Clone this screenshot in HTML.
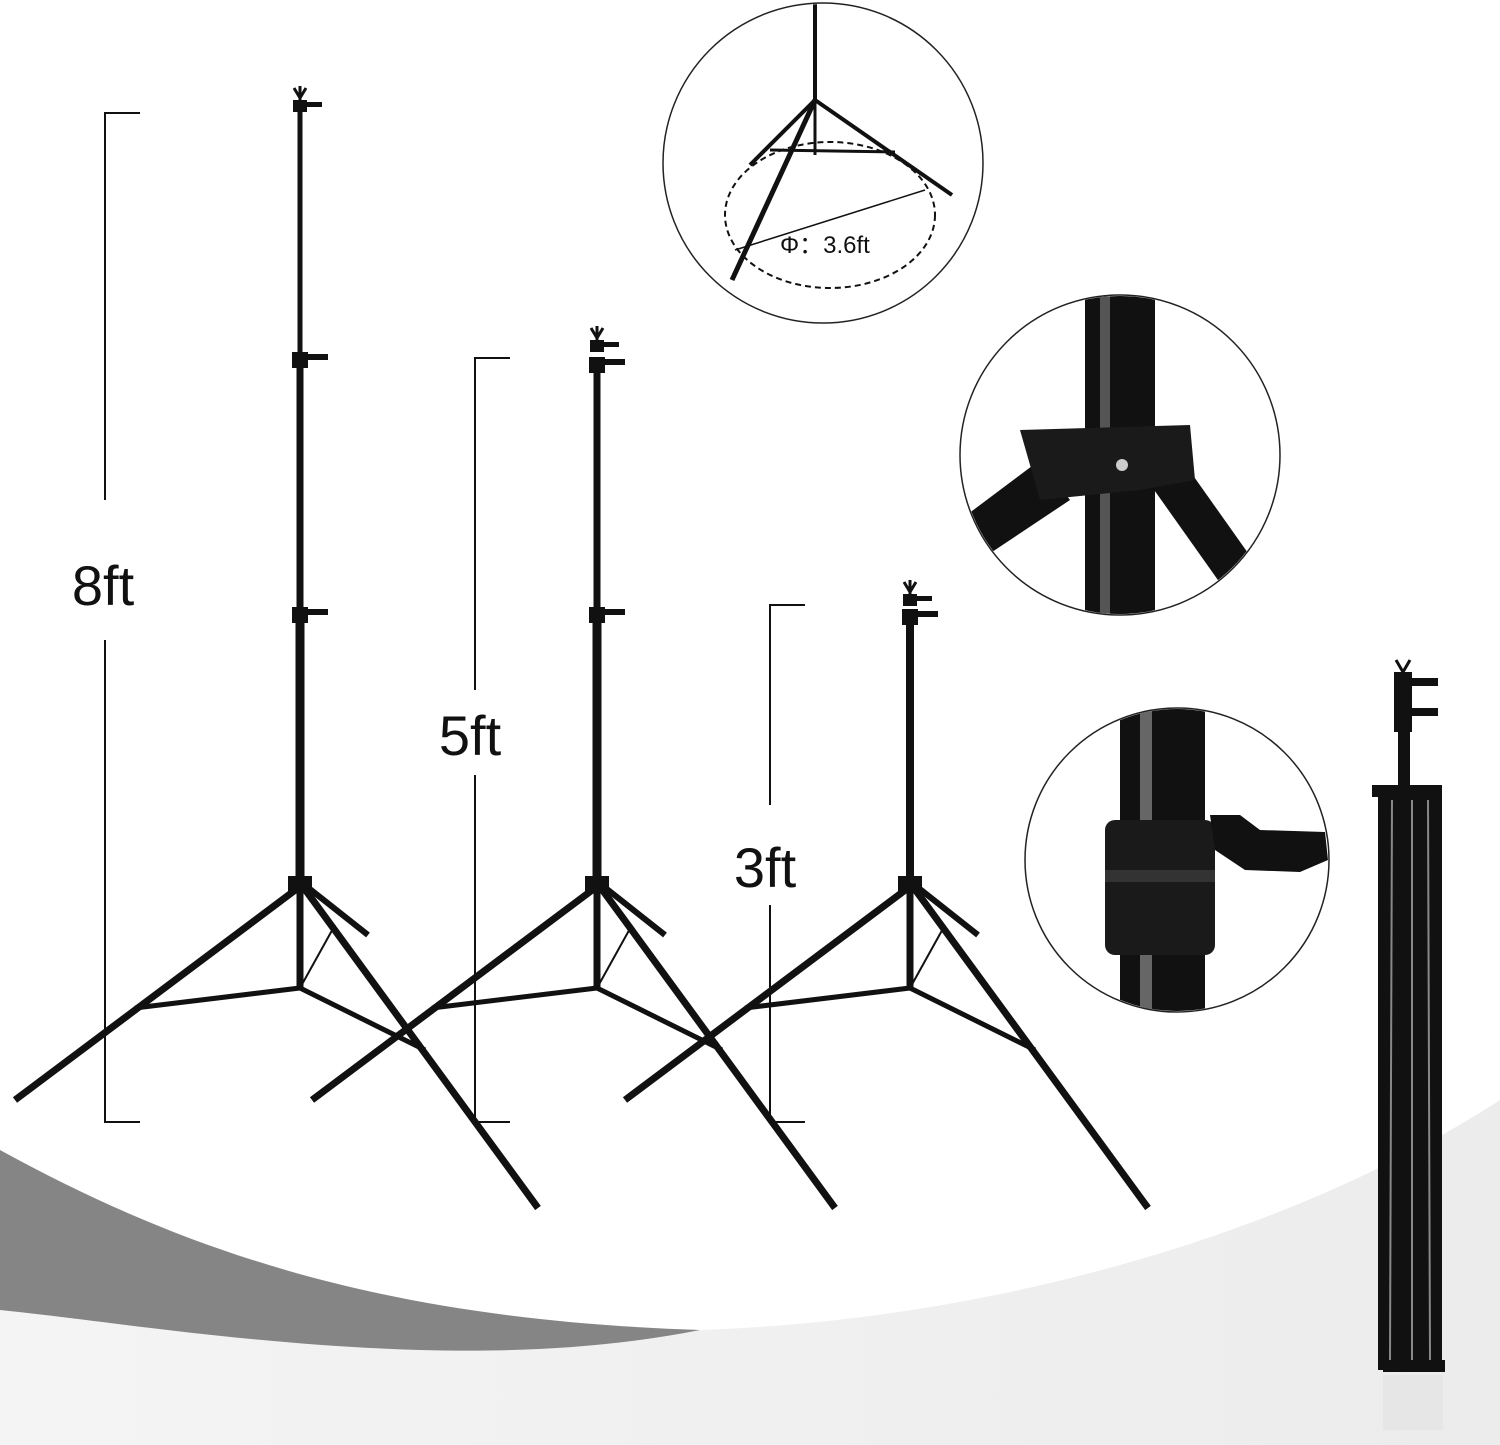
<!DOCTYPE html>
<html><head><style>
body{margin:0;width:1500px;height:1445px;overflow:hidden;background:#fff}
svg{display:block}
text{font-family:"Liberation Sans",Arial,sans-serif}
</style></head><body>
<svg width="1500" height="1445" viewBox="0 0 1500 1445">
<defs>
<linearGradient id="bg" x1="0" y1="0" x2="1" y2="0"><stop offset="0" stop-color="#f4f4f4"/><stop offset="1" stop-color="#ececec"/></linearGradient>
<clipPath id="c1"><circle cx="823" cy="163" r="159"/></clipPath>
<clipPath id="c2"><circle cx="1120" cy="455" r="159"/></clipPath>
<clipPath id="c3"><circle cx="1177" cy="860" r="151"/></clipPath>
<g id="base">
 <rect x="288" y="876" width="24" height="16" fill="#111"/>
 <line x1="298" y1="888" x2="15" y2="1100" stroke="#111" stroke-width="7"/>
 <line x1="304" y1="888" x2="538" y2="1208" stroke="#111" stroke-width="7"/>
 <line x1="306" y1="886" x2="368" y2="935" stroke="#111" stroke-width="6"/>
 <line x1="300" y1="885" x2="300" y2="990" stroke="#111" stroke-width="7"/>
 <line x1="300" y1="988" x2="135" y2="1008" stroke="#111" stroke-width="5"/>
 <line x1="300" y1="988" x2="425" y2="1050" stroke="#111" stroke-width="5"/>
 <line x1="300" y1="988" x2="335" y2="925" stroke="#111" stroke-width="2"/>
</g>
<g id="clamp">
 <rect x="-8" y="-8" width="16" height="16" fill="#111"/><rect x="6" y="-6" width="22" height="6" fill="#111"/>
</g>
<g id="tip">
 <path d="M-6 -12 L0 -2 L6 -12 M0 -14 V0" stroke="#111" stroke-width="3" fill="none"/>
 <rect x="-7" y="0" width="14" height="12" fill="#111"/><rect x="6" y="2" width="16" height="5" fill="#111"/>
</g>
</defs>
<rect width="1500" height="1445" fill="url(#bg)"/>
<path d="M0 0 H1500 V1100 C1300 1230 1000 1320 700 1330 C400 1320 200 1260 0 1150 Z" fill="#fff"/>
<path d="M0 1150 C200 1260 400 1320 700 1330 C600 1350 500 1352 420 1350 C250 1345 100 1320 0 1310 Z" fill="#858585"/>

<g stroke="#111" stroke-width="2" fill="none">
<path d="M140 113 H105 V500 M105 640 V1122 H140"/>
<path d="M510 358 H475 V690 M475 775 V1122 H510"/>
<path d="M805 605 H770 V805 M770 905 V1122 H805"/>
</g>
<text x="103" y="605" font-size="56" text-anchor="middle" fill="#111">8ft</text>
<text x="470" y="755" font-size="56" text-anchor="middle" fill="#111">5ft</text>
<text x="765" y="887" font-size="56" text-anchor="middle" fill="#111">3ft</text>

<!-- tripod 1 -->
<use href="#base"/>
<line x1="300" y1="105" x2="300" y2="360" stroke="#111" stroke-width="5"/>
<line x1="300" y1="360" x2="300" y2="615" stroke="#111" stroke-width="7"/>
<line x1="300" y1="615" x2="300" y2="885" stroke="#111" stroke-width="9"/>
<use href="#tip" x="300" y="100"/>
<use href="#clamp" x="300" y="360"/>
<use href="#clamp" x="300" y="615"/>
<!-- tripod 2 -->
<use href="#base" x="297"/>
<line x1="597" y1="360" x2="597" y2="615" stroke="#111" stroke-width="7"/>
<line x1="597" y1="615" x2="597" y2="885" stroke="#111" stroke-width="9"/>
<use href="#tip" x="597" y="340"/>
<use href="#clamp" x="597" y="365"/>
<use href="#clamp" x="597" y="615"/>
<!-- tripod 3 -->
<use href="#base" x="610"/>
<line x1="910" y1="610" x2="910" y2="885" stroke="#111" stroke-width="8"/>
<use href="#tip" x="910" y="594"/>
<use href="#clamp" x="910" y="617"/>

<!-- circle 1 -->
<circle cx="823" cy="163" r="160" fill="#fff" stroke="#222" stroke-width="1.5"/>
<g clip-path="url(#c1)" stroke="#111" fill="none">
<line x1="815" y1="0" x2="815" y2="100" stroke-width="4"/>
<line x1="815" y1="100" x2="732" y2="280" stroke-width="5"/>
<line x1="815" y1="100" x2="952" y2="195" stroke-width="4"/>
<line x1="815" y1="100" x2="750" y2="165" stroke-width="4"/>
<line x1="815" y1="100" x2="815" y2="155" stroke-width="3"/>
<line x1="770" y1="150" x2="895" y2="152" stroke-width="3"/>
<ellipse cx="830" cy="215" rx="105" ry="73" stroke-dasharray="6 4" stroke-width="2"/>
<line x1="735" y1="250" x2="925" y2="190" stroke-width="1.5"/>
</g>
<text x="780" y="253" font-size="24" fill="#111">Φ：3.6ft</text>

<!-- circle 2 -->
<circle cx="1120" cy="455" r="160" fill="#fff" stroke="#222" stroke-width="1.5"/>
<g clip-path="url(#c2)">
<rect x="1085" y="290" width="70" height="330" fill="#111"/>
<rect x="1100" y="290" width="10" height="330" fill="#555"/>
<path d="M960 520 L1040 460 L1070 500 L980 560 Z" fill="#111"/>
<path d="M1140 470 L1175 450 L1260 570 L1225 590 Z" fill="#111"/>
<path d="M1020 430 L1190 425 L1195 480 L1140 490 L1040 500 Z" fill="#1a1a1a"/>
<circle cx="1122" cy="465" r="6" fill="#ccc"/>
</g>

<!-- circle 3 -->
<circle cx="1177" cy="860" r="152" fill="#fff" stroke="#222" stroke-width="1.5"/>
<g clip-path="url(#c3)">
<rect x="1120" y="700" width="85" height="320" fill="#111"/>
<rect x="1140" y="700" width="12" height="320" fill="#666"/>
<rect x="1105" y="820" width="110" height="135" rx="10" fill="#1a1a1a"/>
<rect x="1105" y="870" width="110" height="12" fill="#333"/>
<path d="M1210 815 L1240 815 L1260 830 L1325 832 L1328 860 L1300 872 L1245 870 L1215 850 Z" fill="#111"/>
</g>

<!-- folded stand -->
<g fill="#111">
<path d="M1396 660 L1403 672 L1410 660" stroke="#111" stroke-width="3" fill="none"/>
<rect x="1394" y="672" width="18" height="60"/>
<rect x="1408" y="678" width="30" height="8"/>
<rect x="1408" y="708" width="30" height="8"/>
<rect x="1398" y="730" width="12" height="58"/>
<rect x="1372" y="785" width="70" height="12"/>
<rect x="1378" y="795" width="64" height="575"/>
<rect x="1383" y="1360" width="62" height="12"/>
</g>
<g stroke="#888" stroke-width="2">
<line x1="1392" y1="800" x2="1390" y2="1360"/><line x1="1412" y1="800" x2="1412" y2="1360"/><line x1="1428" y1="800" x2="1430" y2="1360"/>
</g>
<rect x="1383" y="1375" width="60" height="55" fill="#e6e6e6"/>
</svg>
</body></html>
